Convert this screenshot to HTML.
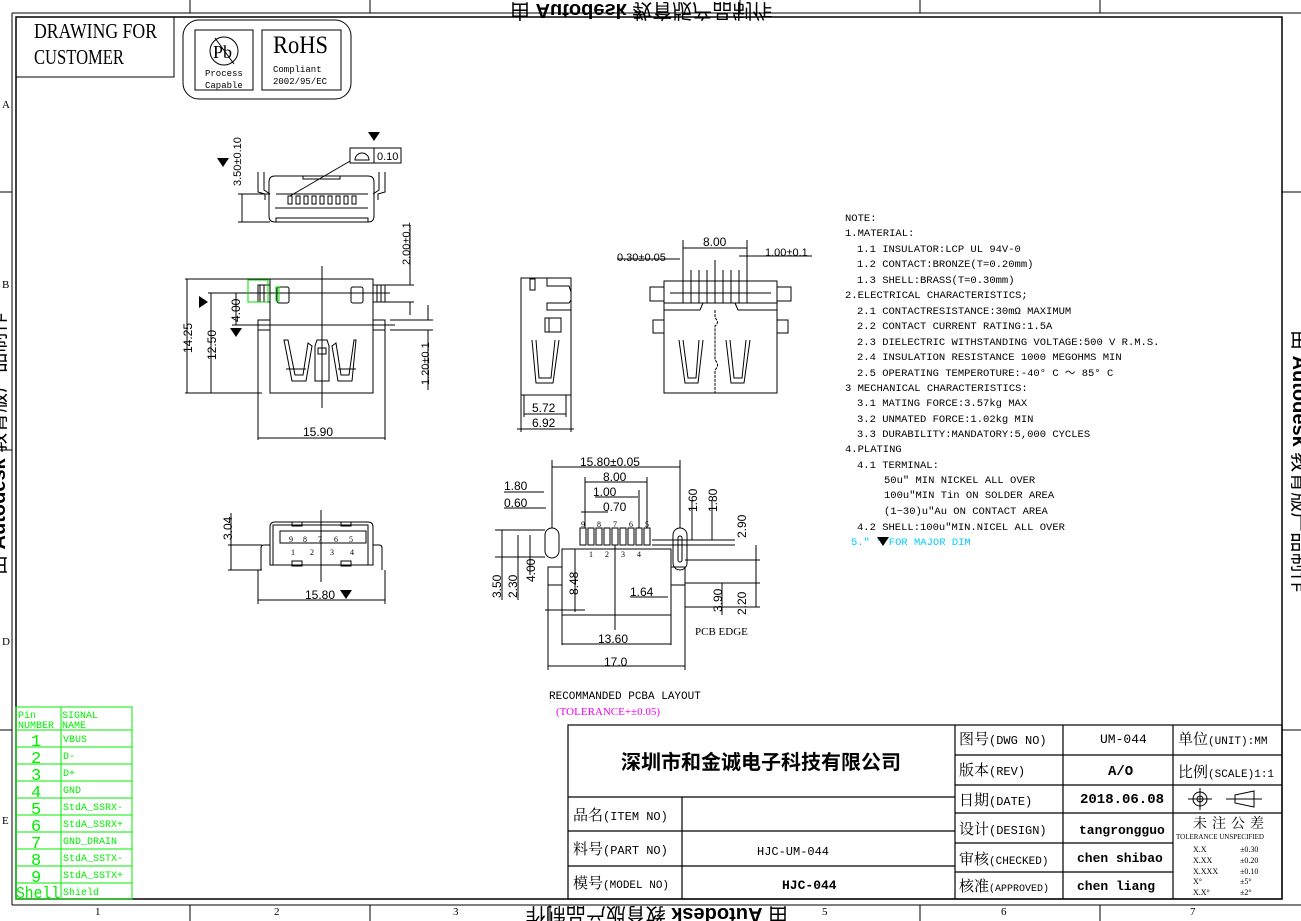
<!DOCTYPE html>
<html><head><meta charset="utf-8"><style>
html,body{margin:0;padding:0;background:#fff;}
svg{display:block;}
text{font-family:"Liberation Serif","Noto Serif CJK SC",serif;fill:#000;}
.s{font-family:"Liberation Sans","Noto Sans CJK SC",sans-serif;}
.m{font-family:"Liberation Mono","Noto Sans CJK SC",monospace;}
.g{fill:#00ee00;font-family:"Liberation Mono",monospace;}
</style></head><body>
<svg width="1301" height="921" viewBox="0 0 1301 921" xmlns="http://www.w3.org/2000/svg" fill="none" stroke="#000" stroke-width="1">
<line x1="12" y1="13" x2="1301" y2="13"/>
<line x1="12" y1="13" x2="12" y2="905"/>
<line x1="12" y1="905" x2="1301" y2="905"/>
<rect x="16" y="17" width="1266" height="882" stroke-width="1.5"/>
<g stroke-width="1"><line x1="190" y1="0" x2="190" y2="13"/><line x1="370" y1="0" x2="370" y2="13"/><line x1="740" y1="0" x2="740" y2="13"/><line x1="920" y1="0" x2="920" y2="13"/><line x1="1100" y1="0" x2="1100" y2="13"/>
<line x1="190" y1="905" x2="190" y2="921"/><line x1="370" y1="905" x2="370" y2="921"/><line x1="550" y1="905" x2="550" y2="921"/><line x1="920" y1="905" x2="920" y2="921"/><line x1="1100" y1="905" x2="1100" y2="921"/>
<line x1="0" y1="192" x2="12" y2="192"/><line x1="0" y1="450" x2="12" y2="450"/><line x1="0" y1="730" x2="12" y2="730"/><line x1="1282" y1="192" x2="1301" y2="192"/><line x1="1282" y1="730" x2="1301" y2="730"/></g>
<g stroke="none" font-size="11">
<text x="2" y="108">A</text><text x="2" y="288">B</text><text x="2" y="645">D</text><text x="2" y="824">E</text>
<text x="95" y="915">1</text><text x="274" y="915">2</text><text x="453" y="915">3</text><text x="822" y="915">5</text><text x="1001" y="915">6</text><text x="1190" y="915">7</text>
</g>
<g stroke="none">
<text class="s" x="0" y="0" font-size="20" transform="translate(5,575) rotate(-90)"><tspan>由 </tspan><tspan font-weight="bold">Autodesk</tspan><tspan> 教育版产品制作</tspan></text>
<text class="s" x="0" y="0" font-size="20" transform="translate(1293,330) rotate(90)"><tspan>由 </tspan><tspan font-weight="bold">Autodesk</tspan><tspan> 教育版产品制作</tspan></text>
<text class="s" x="0" y="0" font-size="20" transform="translate(788,908) rotate(180)"><tspan>由 </tspan><tspan font-weight="bold">Autodesk</tspan><tspan> 教育版产品制作</tspan></text>
<text class="s" x="0" y="0" font-size="20" transform="translate(510,4) scale(1,-1)"><tspan>由 </tspan><tspan font-weight="bold">Autodesk</tspan><tspan> 教育版产品制作</tspan></text>
</g>
<rect x="16" y="17" width="158" height="60"/>
<g stroke="none" font-size="21"><text x="34" y="38" textLength="123" lengthAdjust="spacingAndGlyphs">DRAWING FOR</text><text x="34" y="64" textLength="90" lengthAdjust="spacingAndGlyphs">CUSTOMER</text></g>
<rect x="183" y="20" width="168" height="79" rx="16"/>
<rect x="195" y="30" width="58" height="60"/>
<rect x="262" y="30" width="79" height="60"/>
<circle cx="224" cy="51" r="14"/><line x1="215" y1="38" x2="234" y2="64"/>
<g stroke="none"><text x="213" y="58" font-size="18">Pb</text>
<text x="205" y="76" font-size="9" class="m">Process</text><text x="205" y="88" font-size="9" class="m">Capable</text>
<text x="273" y="53" font-size="25" textLength="55" lengthAdjust="spacingAndGlyphs">RoHS</text>
<text x="273" y="72" font-size="9" class="m">Compliant</text><text x="273" y="84" font-size="9" class="m">2002/95/EC</text></g>

<g>
<path d="M269,195 L269,182 Q269,176 275,176 L368,176 Q374,176 374,182 L374,216 Q374,222 368,222 L275,222 Q269,222 269,216 Z"/>
<rect x="303" y="176" width="37" height="3"/>
<rect x="276" y="218" width="92" height="4"/>
<path d="M258,172 L258,192 L265,194 L265,200 M264,172 L264,190 L270,194"/>
<path d="M385,172 L385,192 L378,194 L378,200 M379,172 L379,190 L373,194"/>
<line x1="276" y1="194" x2="368" y2="194"/>
<line x1="275" y1="208" x2="368" y2="208"/>
<g>
<rect x="288" y="196" width="4" height="8"/><rect x="296" y="196" width="4" height="8"/><rect x="304" y="196" width="4" height="8"/><rect x="312" y="196" width="4" height="8"/><rect x="320" y="196" width="4" height="8"/><rect x="328" y="196" width="4" height="8"/><rect x="336" y="196" width="4" height="8"/><rect x="344" y="196" width="4" height="8"/><rect x="352" y="196" width="4" height="8"/></g>
<line x1="290" y1="196" x2="357" y2="157"/>
<rect x="350" y="148" width="24" height="15" fill="#fff"/><rect x="374" y="148" width="27" height="15"/>
<path d="M355,160 A7,7 0 0 1 369,160 Z"/>
<line x1="238" y1="194" x2="270" y2="194"/><line x1="238" y1="222" x2="270" y2="222"/>
<line x1="242" y1="194" x2="242" y2="222"/>
</g>
<g stroke="none">
<text x="377" y="160" font-size="11" class="s">0.10</text>
<path d="M368,132 L380,132 L374,141 Z" fill="#000"/>
<path d="M217,158 L229,158 L223,167 Z" fill="#000"/>
<text class="s" font-size="11" transform="translate(241,186) rotate(-90)">3.50±0.10</text>
</g>

<g>
<rect x="270" y="279" width="103" height="114"/>
<path d="M258,393 L258,320 L270,320 M385,393 L385,320 L373,320"/>
<rect x="258" y="320" width="12" height="10"/><rect x="373" y="320" width="12" height="10"/>
<rect x="258" y="285" width="12" height="17"/><rect x="373" y="285" width="12" height="17"/>
<line x1="260" y1="285" x2="260" y2="302"/><line x1="264" y1="285" x2="264" y2="302"/><line x1="377" y1="285" x2="377" y2="302"/><line x1="381" y1="285" x2="381" y2="302"/>
<rect x="277" y="287" width="12" height="16" rx="2"/><rect x="351" y="287" width="12" height="16" rx="2"/>
<line x1="322" y1="266" x2="322" y2="408"/>
<path d="M284,340 L292,381 L306,381 L312,346 L308,343 L303,375 L295,375 L288,340 Z"/>
<path d="M356,340 L352,381 L338,381 L332,346 L336,343 L341,375 L349,375 L354,340 Z"/>
<path d="M315,346 L317,340 L327,340 L329,346 L329,381 L315,381 Z"/>
<rect x="318" y="348" width="8" height="6"/>
<line x1="286" y1="369" x2="306" y2="369"/><line x1="338" y1="369" x2="356" y2="369"/>
<line x1="185" y1="279" x2="270" y2="279"/><line x1="185" y1="393" x2="262" y2="393"/>
<line x1="187" y1="279" x2="187" y2="393"/>
<line x1="208" y1="293" x2="390" y2="293"/><line x1="211" y1="293" x2="211" y2="393"/>
<line x1="232" y1="325" x2="395" y2="325"/><line x1="236" y1="293" x2="236" y2="325"/>
<line x1="258" y1="393" x2="258" y2="440"/><line x1="385" y1="393" x2="385" y2="440"/>
<line x1="258" y1="438" x2="385" y2="438"/>
<line x1="385" y1="285" x2="414" y2="285"/><line x1="385" y1="302" x2="414" y2="302"/>
<line x1="410" y1="225" x2="410" y2="285"/><line x1="410" y1="302" x2="410" y2="315"/>
<line x1="390" y1="320" x2="433" y2="320"/><line x1="390" y1="330" x2="433" y2="330"/>
<line x1="428" y1="305" x2="428" y2="320"/><line x1="428" y1="330" x2="428" y2="390"/>
<rect x="248" y="280" width="20" height="22" stroke="#00dd00"/>
<rect x="276" y="287" width="3" height="14" stroke="#00dd00"/>
</g>
<g stroke="none">
<text class="s" font-size="12" transform="translate(192,353) rotate(-90)">14.25</text>
<text class="s" font-size="12" transform="translate(216,360) rotate(-90)">12.50</text>
<path d="M199,296 L199,308 L208,302 Z" fill="#000"/>
<text class="s" font-size="12" transform="translate(240,322) rotate(-90)">4.00</text>
<path d="M230,328 L242,328 L236,337 Z" fill="#000"/>
<text class="s" font-size="12" x="303" y="436">15.90</text>
<text class="s" font-size="11" transform="translate(410,265) rotate(-90)">2.00±0.1</text>
<text class="s" font-size="11" transform="translate(429,385) rotate(-90)">1.20±0.1</text>
</g>

<g>
<rect x="521" y="278" width="50" height="117"/>
<path d="M521,278 L547,278 L547,286 L569,286 L571,292 L571,300 L569,303 L547,303 L547,310 L571,310"/>
<rect x="530" y="279" width="5" height="11"/>
<rect x="545" y="318" width="16" height="14"/><line x1="549" y1="318" x2="549" y2="332"/>
<path d="M532,340 L536,383 L553,383 L559,340 M536,340 L539,378 L551,378 L555,340"/>
<line x1="521" y1="395" x2="521" y2="432"/><line x1="571" y1="395" x2="571" y2="432"/>
<line x1="524" y1="395" x2="524" y2="417"/><line x1="566" y1="395" x2="566" y2="417"/>
<line x1="524" y1="414" x2="566" y2="414"/><line x1="517" y1="429" x2="574" y2="429"/>
</g>
<g stroke="none" font-size="12" class="s"><text class="s" x="532" y="412">5.72</text><text class="s" x="532" y="427">6.92</text></g>

<g>
<rect x="664" y="281" width="113" height="112"/>
<rect x="664" y="281" width="113" height="22"/>
<rect x="650" y="287" width="14" height="14"/><rect x="777" y="287" width="14" height="14"/>
<rect x="653" y="320" width="11" height="13"/><rect x="777" y="320" width="11" height="13"/>
<path d="M664,303 L664,310 L700,310 L703,303 M777,303 L777,310 L738,310 L735,303"/>
<line x1="670" y1="293" x2="771" y2="293"/>
<g>
<line x1="683" y1="270" x2="683" y2="303"/><line x1="691" y1="270" x2="691" y2="303"/><line x1="699" y1="270" x2="699" y2="303"/><line x1="707" y1="270" x2="707" y2="303"/><line x1="715" y1="260" x2="715" y2="303"/><line x1="723" y1="270" x2="723" y2="303"/><line x1="731" y1="270" x2="731" y2="303"/><line x1="739" y1="270" x2="739" y2="303"/><line x1="747" y1="270" x2="747" y2="303"/>
</g>
<path d="M715,310 L715,318 Q720,322 715,326 L715,360 Q720,365 715,370 L715,393" stroke-dasharray="3,1"/>
<path d="M679,340 L685,383 L698,383 L703,340 M683,340 L688,378 L696,378 L699,340"/>
<path d="M726,340 L731,383 L744,383 L750,340 M730,340 L734,378 L742,378 L746,340"/>
<line x1="683" y1="240" x2="683" y2="270"/><line x1="747" y1="240" x2="747" y2="270"/>
<line x1="683" y1="248" x2="747" y2="248"/>
<line x1="617" y1="259" x2="680" y2="259"/><line x1="739" y1="256" x2="812" y2="256"/>
</g>
<g stroke="none" class="s" font-size="11"><text class="s" x="703" y="246" font-size="12">8.00</text><text class="s" x="617" y="261">0.30±0.05</text><text class="s" x="765" y="256">1.00±0.1</text></g>

<g>
<path d="M270,545 L270,527 Q270,522 275,522 L368,522 Q373,522 373,527 L373,565 L270,565 Z"/>
<rect x="273" y="525" width="95" height="40"/>
<rect x="280" y="531" width="86" height="12"/>
<path d="M261,570 L261,548 Q261,545 264,545 L270,545 M382,570 L382,548 Q382,545 379,545 L373,545"/>
<rect x="292" y="561" width="10" height="5"/><rect x="341" y="561" width="10" height="5"/>
<rect x="292" y="522" width="10" height="4"/><rect x="341" y="522" width="10" height="4"/>
<line x1="321" y1="510" x2="321" y2="582"/>
<line x1="228" y1="545" x2="262" y2="545"/><line x1="228" y1="570" x2="262" y2="570"/>
<line x1="231" y1="513" x2="231" y2="570"/>
<line x1="258" y1="570" x2="258" y2="604"/><line x1="385" y1="570" x2="385" y2="604"/>
<line x1="258" y1="600" x2="385" y2="600"/>
</g>
<g stroke="none" class="s" font-size="8"><text x="289" y="542">9</text><text x="303" y="542">8</text><text x="318" y="542">7</text><text x="334" y="542">6</text><text x="349" y="542">5</text>
<text x="291" y="555">1</text><text x="310" y="555">2</text><text x="330" y="555">3</text><text x="350" y="555">4</text>
<text class="s" font-size="12" transform="translate(232,540) rotate(-90)">3.04</text>
<text class="s" font-size="12" x="305" y="599">15.80</text><path d="M340,590 L352,590 L346,599 Z" fill="#000"/></g>

<g>
<rect x="562" y="549" width="109" height="66"/>
<rect x="548" y="567" width="14" height="18"/><rect x="671" y="567" width="14" height="18"/>
<line x1="548" y1="585" x2="548" y2="670"/><line x1="685" y1="585" x2="685" y2="670"/>
<line x1="562" y1="615" x2="562" y2="645"/><line x1="671" y1="615" x2="671" y2="645"/>
<rect x="545" y="528" width="14" height="30" rx="7"/><rect x="673" y="528" width="14" height="42" rx="7"/>
<rect x="678" y="536" width="4" height="26" rx="2"/>
<g>
<rect x="580" y="528" width="6" height="17"/><rect x="588" y="528" width="6" height="17"/><rect x="596" y="528" width="6" height="17"/><rect x="604" y="528" width="6" height="17"/><rect x="612" y="528" width="6" height="17"/><rect x="620" y="528" width="6" height="17"/><rect x="628" y="528" width="6" height="17"/><rect x="636" y="528" width="6" height="17"/><rect x="644" y="528" width="6" height="17"/></g>
<line x1="615" y1="545" x2="615" y2="630"/>
<line x1="552" y1="460" x2="552" y2="528"/><line x1="680" y1="460" x2="680" y2="528"/>
<line x1="552" y1="467" x2="680" y2="467"/>
<line x1="585" y1="477" x2="585" y2="528"/><line x1="647" y1="477" x2="647" y2="528"/>
<line x1="585" y1="482" x2="647" y2="482"/>
<line x1="595" y1="497" x2="638" y2="497"/><line x1="639" y1="490" x2="639" y2="528"/>
<line x1="608" y1="512" x2="581" y2="512"/>
<line x1="504" y1="492" x2="544" y2="492"/><line x1="504" y1="508" x2="546" y2="508"/>
<line x1="495" y1="530" x2="545" y2="530"/><line x1="495" y1="557" x2="545" y2="557"/>
<line x1="502" y1="530" x2="502" y2="600"/><line x1="518" y1="535" x2="518" y2="600"/>
<line x1="530" y1="535" x2="530" y2="575"/>
<line x1="545" y1="610" x2="585" y2="610"/><line x1="575" y1="549" x2="575" y2="612"/>
<line x1="652" y1="540" x2="735" y2="540"/><line x1="652" y1="545" x2="735" y2="545"/>
<line x1="685" y1="560" x2="760" y2="560"/>
<line x1="685" y1="583" x2="760" y2="583"/>
<line x1="685" y1="607" x2="760" y2="607"/>
<line x1="692" y1="500" x2="692" y2="540"/><line x1="712" y1="500" x2="712" y2="540"/>
<line x1="756" y1="545" x2="756" y2="607"/><line x1="722" y1="583" x2="722" y2="615"/>
<line x1="630" y1="597" x2="668" y2="597"/>
<line x1="562" y1="644" x2="671" y2="644"/>
<line x1="548" y1="666" x2="685" y2="666"/>
</g>
<g stroke="none" class="s" font-size="12">
<text class="s" x="580" y="466">15.80±0.05</text><text class="s" x="603" y="481">8.00</text>
<text class="s" x="593" y="496">1.00</text><text class="s" x="603" y="511">0.70</text>
<text class="s" x="504" y="490">1.80</text><text class="s" x="504" y="507">0.60</text>
<text class="s" x="630" y="596">1.64</text><text class="s" x="598" y="643">13.60</text><text class="s" x="604" y="666">17.0</text>
<text class="s" transform="translate(501,598) rotate(-90)">3.50</text><text class="s" transform="translate(517,598) rotate(-90)">2.30</text>
<text class="s" transform="translate(535,582) rotate(-90)">4.00</text><text class="s" transform="translate(578,595) rotate(-90)">8.48</text>
<text class="s" transform="translate(697,512) rotate(-90)">1.60</text><text class="s" transform="translate(717,512) rotate(-90)">1.80</text>
<text class="s" transform="translate(746,538) rotate(-90)">2.90</text><text class="s" transform="translate(722,612) rotate(-90)">3.90</text>
<text class="s" transform="translate(746,615) rotate(-90)">2.20</text>
<g font-size="8"><text x="581" y="527">9</text><text x="597" y="527">8</text><text x="613" y="527">7</text><text x="629" y="527">6</text><text x="645" y="527">5</text>
<text x="589" y="557">1</text><text x="605" y="557">2</text><text x="621" y="557">3</text><text x="637" y="557">4</text></g>
<text x="695" y="635" font-size="11">PCB EDGE</text>
<text x="549" y="699" font-size="11" class="m" font-size="10">RECOMMANDED PCBA LAYOUT</text>
<text x="556" y="715" font-size="11" style="fill:#ee00ee">(TOLERANCE+±0.05)</text>
</g>

<g stroke="none" font-size="10.5" class="m">
<text class="m" x="845" y="221">NOTE:</text>
<text class="m" x="845" y="236">1.MATERIAL:</text>
<text class="m" x="857" y="252">1.1 INSULATOR:LCP UL 94V-0</text>
<text class="m" x="857" y="267">1.2 CONTACT:BRONZE(T=0.20mm)</text>
<text class="m" x="857" y="283">1.3 SHELL:BRASS(T=0.30mm)</text>
<text class="m" x="845" y="298">2.ELECTRICAL CHARACTERISTICS;</text>
<text class="m" x="857" y="314">2.1 CONTACTRESISTANCE:30mΩ MAXIMUM</text>
<text class="m" x="857" y="329">2.2 CONTACT CURRENT RATING:1.5A</text>
<text class="m" x="857" y="345">2.3 DIELECTRIC WITHSTANDING VOLTAGE:500 V R.M.S.</text>
<text class="m" x="857" y="360">2.4 INSULATION RESISTANCE 1000 MEGOHMS MIN</text>
<text class="m" x="857" y="376">2.5 OPERATING TEMPEROTURE:-40° C ～ 85° C</text>
<text class="m" x="845" y="391">3 MECHANICAL CHARACTERISTICS:</text>
<text class="m" x="857" y="406">3.1 MATING FORCE:3.57kg MAX</text>
<text class="m" x="857" y="422">3.2 UNMATED FORCE:1.02kg MIN</text>
<text class="m" x="857" y="437">3.3 DURABILITY:MANDATORY:5,000 CYCLES</text>
<text class="m" x="845" y="452">4.PLATING</text>
<text class="m" x="857" y="468">4.1 TERMINAL:</text>
<text class="m" x="884" y="483">50u" MIN NICKEL ALL OVER</text>
<text class="m" x="884" y="498">100u"MIN Tin ON SOLDER AREA</text>
<text class="m" x="884" y="514">(1~30)u"Au ON CONTACT AREA</text>
<text class="m" x="857" y="530">4.2 SHELL:100u"MIN.NICEL ALL OVER</text>
<text class="m" x="851" y="545" style="fill:#00ccff">5."   " FOR MAJOR DIM</text>
</g>
<path d="M877,537 L889,537 L883,546 Z" fill="#000" stroke="none"/>

<g stroke="#00ee00">
<rect x="16" y="707" width="116" height="192"/>
<line x1="61" y1="707" x2="61" y2="899"/>
<line x1="16" y1="730" x2="132" y2="730"/><line x1="16" y1="747" x2="132" y2="747"/><line x1="16" y1="764" x2="132" y2="764"/><line x1="16" y1="781" x2="132" y2="781"/><line x1="16" y1="798" x2="132" y2="798"/><line x1="16" y1="815" x2="132" y2="815"/><line x1="16" y1="832" x2="132" y2="832"/><line x1="16" y1="849" x2="132" y2="849"/><line x1="16" y1="866" x2="132" y2="866"/><line x1="16" y1="883" x2="132" y2="883"/>
</g>
<g stroke="none" font-size="10">
<text class="g" x="18" y="718">Pin</text><text class="g" x="18" y="728">NUMBER</text><text class="g" x="62" y="718">SIGNAL</text><text class="g" x="62" y="728">NAME</text>
<g font-size="17"><text class="g" x="31" y="746">1</text><text class="g" x="31" y="763">2</text><text class="g" x="31" y="780">3</text><text class="g" x="31" y="797">4</text><text class="g" x="31" y="814">5</text><text class="g" x="31" y="831">6</text><text class="g" x="31" y="848">7</text><text class="g" x="31" y="865">8</text><text class="g" x="31" y="882">9</text><text class="g" x="16" y="898" textLength="44" lengthAdjust="spacingAndGlyphs">Shell</text></g>
<text class="g" x="63" y="742">VBUS</text><text class="g" x="63" y="759">D-</text><text class="g" x="63" y="776">D+</text><text class="g" x="63" y="793">GND</text><text class="g" x="63" y="810">StdA_SSRX-</text><text class="g" x="63" y="827">StdA_SSRX+</text><text class="g" x="63" y="844">GND_DRAIN</text><text class="g" x="63" y="861">StdA_SSTX-</text><text class="g" x="63" y="878">StdA_SSTX+</text><text class="g" x="63" y="895">Shield</text>
</g>

<g stroke-width="1.2">
<rect x="568" y="725" width="714" height="174"/>
<line x1="955" y1="725" x2="955" y2="899"/><line x1="1063" y1="725" x2="1063" y2="899"/><line x1="1173" y1="725" x2="1173" y2="899"/>
<line x1="568" y1="797" x2="955" y2="797"/><line x1="568" y1="831" x2="955" y2="831"/><line x1="568" y1="866" x2="955" y2="866"/>
<line x1="682" y1="797" x2="682" y2="899"/>
<line x1="955" y1="755" x2="1282" y2="755"/><line x1="955" y1="785" x2="1282" y2="785"/><line x1="955" y1="813" x2="1282" y2="813"/>
<line x1="955" y1="843" x2="1173" y2="843"/><line x1="955" y1="872" x2="1173" y2="872"/>
</g>
<circle cx="1200" cy="799" r="7"/><circle cx="1200" cy="799" r="3"/><line x1="1188" y1="799" x2="1212" y2="799"/><line x1="1200" y1="788" x2="1200" y2="810"/>
<path d="M1235,795 L1254,791 L1254,807 L1235,803 Z"/><line x1="1226" y1="799" x2="1262" y2="799"/>
<g stroke="none">
<text x="621" y="769" font-size="20" font-weight="bold" class="s">深圳市和金诚电子科技有限公司</text>
<g font-size="15"><text x="573" y="820">品名<tspan font-size="12" class="m">(ITEM NO)</tspan></text>
<text x="573" y="854">料号<tspan font-size="12" class="m">(PART NO)</tspan></text>
<text x="573" y="888">模号<tspan font-size="11" class="m">(MODEL NO)</tspan></text>
<text x="959" y="744">图号<tspan font-size="12" class="m">(DWG NO)</tspan></text>
<text x="959" y="775">版本<tspan font-size="12" class="m">(REV)</tspan></text>
<text x="959" y="805">日期<tspan font-size="12" class="m">(DATE)</tspan></text>
<text x="959" y="834">设计<tspan font-size="12" class="m">(DESIGN)</tspan></text>
<text x="959" y="864">审核<tspan font-size="11" class="m">(CHECKED)</tspan></text>
<text x="959" y="891">核准<tspan font-size="10" class="m">(APPROVED)</tspan></text>
<text x="1178" y="744">单位<tspan font-size="11" class="m">(UNIT):MM</tspan></text>
<text x="1178" y="777">比例<tspan font-size="11" class="m">(SCALE)1:1</tspan></text></g>
<text x="757" y="855" font-size="12" class="m">HJC-UM-044</text>
<text x="782" y="889" font-size="13" font-weight="bold" class="m">HJC-044</text>
<text x="1100" y="743" font-size="13" class="m">UM-044</text>
<text x="1108" y="775" font-size="14" font-weight="bold" class="m">A/O</text>
<text x="1080" y="803" font-size="14" font-weight="bold" class="m">2018.06.08</text>
<text x="1079" y="834" font-size="13" font-weight="bold" class="m">tangrongguo</text>
<text x="1077" y="862" font-size="13" font-weight="bold" class="m">chen shibao</text>
<text x="1077" y="890" font-size="13" font-weight="bold" class="m">chen liang</text>
<text x="1193" y="828" font-size="14" letter-spacing="5">未注公差</text>
<text x="1176" y="839" font-size="7">TOLERANCE UNSPECIFIED</text>
<g font-size="8"><text x="1193" y="852">X.X</text><text x="1240" y="852">±0.30</text>
<text x="1193" y="863">X.XX</text><text x="1240" y="863">±0.20</text>
<text x="1193" y="874">X.XXX</text><text x="1240" y="874">±0.10</text>
<text x="1193" y="884">X°</text><text x="1240" y="884">±5°</text>
<text x="1193" y="895">X.X°</text><text x="1240" y="895">±2°</text></g>
</g>
</svg>
</body></html>
